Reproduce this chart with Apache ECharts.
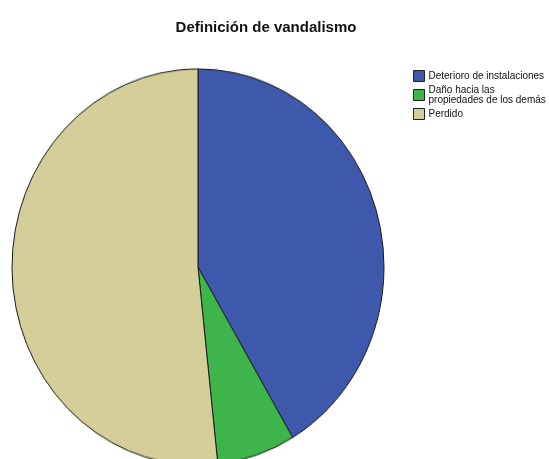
<!DOCTYPE html>
<html>
<head>
<meta charset="utf-8">
<script src="https://cdn.jsdelivr.net/npm/echarts@6/dist/echarts.min.js"></script>
<style>
html,body{margin:0;padding:0;background:#fff;overflow:hidden;width:549px;height:459px;}
#pie,#over{position:absolute;left:0;top:0;width:549px;height:459px;}
#pie{transform:scaleY(1.065);transform-origin:198px 267px;}
</style>
</head>
<body>
<div id="pie"></div>
<div id="over"></div>
<script>
const titleText = "Definición de vandalismo";
const categories = ["Deterioro de instalaciones", "Daño hacia las propiedades de los demás", "Perdido"];
const values = [61, 10, 76];
const colors = ["#3E58AC", "#3DB54A", "#D4CF99"];

const pieData = categories.map((c, i) => ({ name: c, value: values[i], itemStyle: { color: colors[i] } }));
const font = 'Arial, "Liberation Sans", sans-serif';

const pieChart = echarts.init(document.getElementById('pie'), null, { renderer: 'canvas' });
pieChart.setOption({
  animation: false,
  series: [{
    type: 'pie',
    center: [198, 267],
    radius: [0, 186],
    startAngle: 90,
    clockwise: true,
    label: { show: false },
    labelLine: { show: false },
    silent: true,
    itemStyle: { borderColor: '#1a1a1a', borderWidth: 1 },
    data: pieData
  }]
});

const over = echarts.init(document.getElementById('over'), null, { renderer: 'canvas' });
over.setOption({
  animation: false,
  backgroundColor: 'transparent',
  title: {
    text: titleText,
    left: 266,
    textAlign: 'center',
    top: 20,
    padding: 0,
    textStyle: { fontFamily: font, fontSize: 15, fontWeight: 'bold', color: '#111' }
  },
  legend: {
    orient: 'vertical',
    left: 413,
    top: 70,
    padding: 0,
    itemWidth: 11,
    itemHeight: 11,
    itemGap: 3,
    icon: 'rect',
    selectedMode: false,
    itemStyle: { borderColor: '#222', borderWidth: 1 },
    formatter: function (n) {
      return n === categories[1] ? "Daño hacia las\npropiedades de los demás" : n;
    },
    textStyle: { fontFamily: font, fontSize: 10, color: '#111', lineHeight: 10, padding: [0, 0, 0, -1] },
    data: categories
  },
  series: [{
    type: 'pie',
    center: [-500, -500],
    radius: [0, 1],
    silent: true,
    label: { show: false },
    data: pieData
  }]
});
</script>
</body>
</html>
